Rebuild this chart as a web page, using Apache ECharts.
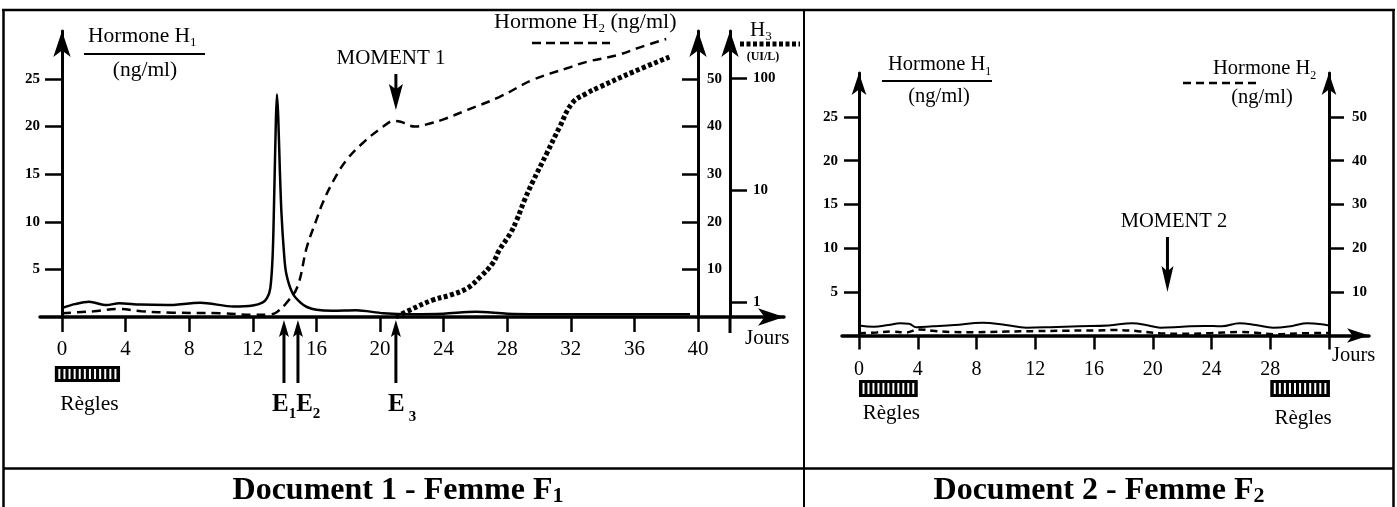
<!DOCTYPE html>
<html><head><meta charset="utf-8">
<script src="https://cdn.jsdelivr.net/npm/echarts@6/dist/echarts.min.js"></script>
<style>html,body{margin:0;padding:0;background:#fff}#c{width:1397px;height:507px}</style>
</head><body><div id="c"></div><script>
// ---------- DATA ----------
// Document 1 - Femme F1 : [jour, valeur]
const f1H1 = [[0,0.95],[0.8,1.35],[1.7,1.6],[2.8,1.25],[3.6,1.45],[4.9,1.3],[6.6,1.25],[8.7,1.5],[10.8,1.1],[12,1.2],[12.6,1.5],[12.9,2.0],[13.1,3.0],[13.25,6.5],[13.35,13],[13.45,20.5],[13.52,23.4],[13.6,21],[13.7,15.5],[13.8,11],[13.95,7],[14.1,4.6],[14.5,2.5],[15,1.5],[15.4,1.05],[16,0.75],[17,0.65],[18.5,0.7],[20.2,0.4],[22,0.3],[24,0.35],[26,0.55],[28,0.35],[30,0.3],[34,0.3],[39.5,0.3]];
const f1H2 = [[0,0.8],[1,1.0],[2,1.2],[3.5,1.7],[5,1.2],[7,0.9],[10,0.8],[12,0.45],[13,0.5],[13.5,1.0],[14.1,2.9],[14.8,6.3],[15.4,14.7],[16,20.4],[16.4,24],[17.1,28.8],[17.9,33],[18.9,36.5],[20.2,40],[20.9,41.2],[21.3,41],[22.2,40],[23.3,40.8],[23.9,41.4],[25.5,43.5],[27.5,46.2],[29.6,49.8],[31.8,52.3],[33,53.6],[34.9,55],[36.4,56.7],[38,58.4]];
const f1H3 = [[21,0.735],[21.9,0.85],[23.3,1.04],[24.4,1.15],[25.5,1.33],[26.3,1.67],[27.1,2.23],[27.5,2.9],[28.2,4.1],[28.6,5.4],[29.1,8.2],[29.6,11.8],[30.5,21.4],[31.3,36.6],[32.1,60],[33,73],[33.8,83],[35.9,113],[38.2,154]];
const f1DaysTicks = [0,4,8,12,16,20,24,28,32,36,40];
const f1H1Ticks = [5,10,15,20,25];
const f1H2Ticks = [10,20,30,40,50];
const f1H3Ticks = [1,10,100];
const f1Regles = [-0.45, 3.65];
const f1Events = [{name:'E', sub:'1', day:13.96},{name:'E', sub:'2', day:14.84},{name:'E', sub:'3', day:21.0}];
const f1Moment = 21;

// Document 2 - Femme F2
const f2H1 = [[0,1.15],[1,1.0],[2,1.2],[2.8,1.4],[3.4,1.35],[3.9,0.95],[5,1.05],[6.5,1.2],[8.4,1.45],[10,1.2],[11.4,0.9],[13,0.95],[15,1.05],[17,1.15],[18.6,1.4],[19.7,1.15],[20.5,0.9],[22,1.0],[23.5,1.1],[24.7,1.05],[25.9,1.4],[27,1.2],[28.2,0.9],[29.5,1.1],[30.5,1.4],[31.5,1.3],[32,1.15]];
const f2H2 = [[0,0.5],[1.2,0.7],[2.2,0.9],[3.2,0.7],[4.1,1.4],[5,1.1],[6.2,0.8],[7.8,0.75],[10,0.9],[12,1.0],[14,1.1],[16,1.15],[17.5,1.25],[19,1.0],[20.5,0.5],[22,0.4],[23.7,0.5],[25.9,0.8],[27,0.65],[28.2,0.3],[30,0.5],[32,0.6]];
const f2DaysTicks = [0,4,8,12,16,20,24,28,32];
const f2DaysLabels = [0,4,8,12,16,20,24,28];
const f2H1Ticks = [5,10,15,20,25];
const f2H2Ticks = [10,20,30,40,50];
const f2Regles = [[0,4],[28,32.06]];
const f2Moment = 21;

// ---------- CHART ----------
const SERIF = '"Liberation Serif","Times New Roman",serif';
const K = '#000';
const chart = echarts.init(document.getElementById('c'), null, {renderer:'canvas', width:1397, height:507});

function yAx(o){
  return {
    type:'value', gridIndex:o.grid, min:o.min, max:o.max, position:o.pos, offset:o.offset,
    splitLine:{show:false},
    axisLine:{show:true, onZero:false, symbol:['none','arrow'], symbolSize:o.sym, lineStyle:{color:K, width:3}},
    axisTick:{show:true, inside:!!o.inside, length:o.tickLen, customValues:o.ticks, lineStyle:{color:K, width:2.5}},
    axisLabel:{show:true, customValues:o.ticks, margin:o.margin, color:K, fontFamily:SERIF, fontWeight:'bold', fontSize:15, formatter:o.fmt}
  };
}
function xAx(o){
  return {
    type:'value', gridIndex:o.grid, min:o.min, max:o.max, position:'bottom',
    splitLine:{show:false},
    axisLine:{show:true, onZero:false, symbol:['none','arrow'], symbolSize:o.sym, lineStyle:{color:K, width:3.5}},
    axisTick:{show:true, length:o.tickLen, customValues:o.ticks, lineStyle:{color:K, width:2.5}},
    axisLabel:{show:true, customValues:o.labels, margin:o.margin, color:K, fontFamily:SERIF, fontSize:o.fs}
  };
}
const lineS = (xi, yi, data, style, smooth) => ({
  type:'line', xAxisIndex:xi, yAxisIndex:yi, data, showSymbol:false, symbol:'none',
  smooth: smooth, lineStyle:style, silent:true, z:5
});

chart.setOption({
  animation:false,
  backgroundColor:'#fff',
  grid:[
    {left:40, right:613, top:31, bottom:190, containLabel:false, outerBoundsMode:'none'},
    {left:842, right:28, top:73, bottom:171.5, containLabel:false, outerBoundsMode:'none'}
  ],
  xAxis:[
    xAx({grid:0, min:-1.384, max:45.41, sym:[13,26], tickLen:15, ticks:f1DaysTicks, labels:f1DaysTicks, margin:22, fs:21}),
    xAx({grid:1, min:-1.157, max:34.72, sym:[11,22], tickLen:14, ticks:f2DaysTicks, labels:f2DaysLabels, margin:24, fs:20})
  ],
  yAxis:[
    yAx({grid:0, min:0, max:30.04, pos:'left', offset:-22, sym:[13,26], tickLen:17, ticks:f1H1Ticks, margin:22}),
    yAx({grid:0, min:0, max:60.08, pos:'right', offset:-86, sym:[13,26], tickLen:16, inside:true, ticks:f1H2Ticks, margin:9}),
    yAx({grid:0, min:-0.134, max:2.42, pos:'right', offset:-54, sym:[13,26], tickLen:17, ticks:f1H3Ticks.map(v=>Math.log10(v)), margin:23, fmt:v=>String(Math.round(Math.pow(10,v)))}),
    yAx({grid:1, min:0, max:30.03, pos:'left', offset:-17, sym:[11,22], tickLen:15, ticks:f2H1Ticks, margin:21}),
    yAx({grid:1, min:0, max:60.07, pos:'right', offset:-40, sym:[11,22], tickLen:15, ticks:f2H2Ticks, margin:23})
  ],
  series:[
    lineS(0,0,f1H1,{color:K, width:2.5, type:'solid'},0.3),
    lineS(0,1,f1H2,{color:K, width:2.5, type:[9,6]},0.4),
    lineS(0,2,f1H3.map(p=>[p[0],Math.log10(p[1])]),{color:K, width:5, type:[4,2.5], cap:'butt'},0.4),
    lineS(1,3,f2H1,{color:K, width:2, type:'solid'},0.4),
    lineS(1,4,f2H2,{color:K, width:2.5, type:[7,5]},0.4)
  ]
});

// ---------- DECORATIONS ----------
const mctx = document.createElement('canvas').getContext('2d');
const fnt = (s,w) => (w||'normal') + ' ' + s + 'px ' + SERIF;
const tw = (t,f) => { mctx.font = f; return mctx.measureText(t).width; };
function txt(t, x, y, size, weight, align){
  return {type:'text', x, y, z:100, style:{text:t, font:fnt(size,weight), fill:K, align:align||'left', verticalAlign:'middle'}};
}
function seq(segs, x, y, align){
  const ws = segs.map(s => tw(s.t, fnt(s.size, s.weight)));
  const total = ws.reduce((a,b)=>a+b,0);
  let cx = align === 'center' ? x - total/2 : x;
  return segs.map((s,i) => { const e = txt(s.t, cx + (s.dx||0), y + (s.dy||0), s.size, s.weight); cx += ws[i] + (s.dx||0); return e; });
}
const ln = (x1,y1,x2,y2,w,dash) => ({type:'line', z:100, shape:{x1,y1,x2,y2}, style:{stroke:K, lineWidth:w, lineDash:dash||null, lineCap:'butt'}});
function arrow(x, yTail, yTip, w, h, lw){
  const d = yTip > yTail ? 1 : -1;
  const base = yTip - d*h;
  return [
    ln(x, yTail, x, yTip - d*h*0.6, lw),
    {type:'polygon', z:100, shape:{points:[[x,yTip],[x+w/2,base],[x,yTip-d*h*0.8],[x-w/2,base]]}, style:{fill:K}}
  ];
}
function regles(x0, x1, y0, h){
  const els = [{type:'rect', z:100, shape:{x:x0, y:y0, width:x1-x0, height:h}, style:{fill:K}}];
  const n = Math.round((x1-x0-4)/5.2);
  const step = (x1-x0-4)/n;
  for (let i=0;i<n;i++) els.push({type:'rect', z:101, shape:{x:x0+2+i*step+1.5, y:y0+3, width:2, height:h-6}, style:{fill:'#fff'}});
  return els;
}
const p0 = (d,v) => chart.convertToPixel({xAxisIndex:0, yAxisIndex:0}, [d,v]);
const p1 = (d,v) => chart.convertToPixel({xAxisIndex:1, yAxisIndex:3}, [d,v]);

const g = [];
// table borders
g.push(ln(2,10,1395,10,2.5), ln(3.5,10,3.5,507,2.5), ln(1393.5,10,1393.5,507,2.5), ln(804,10,804,507,2), ln(3,468.5,1394,468.5,2.5));

// ---- Document 1 ----
g.push(...seq([{t:'Hormone H',size:21.5},{t:'1',size:13,dy:7}], 88, 36));
g.push(ln(84,54,205,54,2));
g.push(txt('(ng/ml)', 145, 70, 21.5, 'normal', 'center'));
g.push(...seq([{t:'Hormone H',size:22},{t:'2',size:13,dy:7},{t:' (ng/ml)',size:22}], 494, 22));
g.push(ln(532,43,610,43,2.5,[9,5]));
g.push(...seq([{t:'H',size:21},{t:'3',size:13,dy:7}], 750, 30));
g.push(txt('(UI/L)', 763, 57, 12, 'bold', 'center'));
g.push(ln(740,44,800,44,5,[4,2.5]));
g.push(txt('Jours', 745, 338, 21));
g.push(txt('MOMENT 1', 391, 58, 21, 'normal', 'center'));
{
  const xm = p0(f1Moment,0)[0];
  g.push(...arrow(xm, 74, 110, 14, 26, 3));
  const a = p0(f1Regles[0],0)[0], b = p0(f1Regles[1],0)[0];
  g.push(...regles(a, b, 366, 16));
  g.push(txt('Règles', (a+b)/2 + 2, 404, 21.5, 'normal', 'center'));
  f1Events.forEach(e => { const x = p0(e.day,0)[0]; g.push(...arrow(x, 383, 320, 10, 17, 3)); });
}
g.push(...seq([{t:'E',size:25,weight:'bold'},{t:'1',size:15,weight:'bold',dy:9},{t:'E',size:25,weight:'bold'},{t:'2',size:15,weight:'bold',dy:9}], 272, 405));
g.push(...seq([{t:'E',size:25,weight:'bold'},{t:'3',size:15,weight:'bold',dy:12,dx:4}], 388, 405));
g.push(ln(730,317,730,333,3));
g.push(...seq([{t:'Document 1 - Femme F',size:32,weight:'bold'},{t:'1',size:22,weight:'bold',dy:5}], 398, 491, 'center'));

// ---- Document 2 ----
g.push(...seq([{t:'Hormone H',size:20.5},{t:'1',size:12,dy:7}], 888, 65));
g.push(ln(882,81,992,81,2));
g.push(txt('(ng/ml)', 939, 97, 20.5, 'normal', 'center'));
g.push(...seq([{t:'Hormone H',size:20.5},{t:'2',size:12,dy:7}], 1213, 69));
g.push(ln(1183,83,1257,83,2.5,[8,5]));
g.push(txt('(ng/ml)', 1262, 98, 20.5, 'normal', 'center'));
g.push(txt('Jours', 1332, 356, 20.5));
g.push(txt('MOMENT 2', 1174, 222, 20.5, 'normal', 'center'));
{
  const xm = p1(f2Moment,0)[0];
  g.push(...arrow(xm, 237, 292, 12, 26, 3));
  f2Regles.forEach((r,i) => {
    const a = p1(r[0],0)[0], b = p1(r[1],0)[0];
    g.push(...regles(a, b, 380, 17));
    g.push(txt('Règles', (a+b)/2 + 3, i===0 ? 413 : 418, 21, 'normal', 'center'));
  });
}
g.push(...seq([{t:'Document 2 - Femme F',size:32,weight:'bold'},{t:'2',size:22,weight:'bold',dy:5}], 1099, 491, 'center'));

chart.setOption({graphic:{elements:g}});
</script></body></html>
